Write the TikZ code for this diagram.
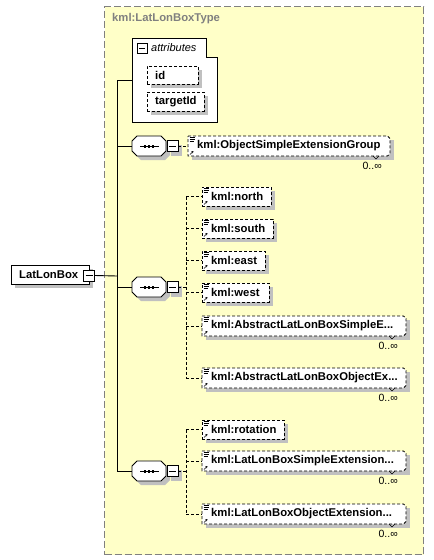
\documentclass[tikz,border=0pt]{standalone}
\usepackage{fontspec}
\setmainfont{Liberation Sans}
\usetikzlibrary{arrows.meta,calc}
\definecolor{bgyel}{RGB}{255,255,200}
\definecolor{bordgray}{RGB}{128,128,128}
\definecolor{shgray}{RGB}{192,192,192}
\pgfdeclarelayer{bg}
\pgfdeclarelayer{shadow}
\pgfsetlayers{bg,shadow,main}
\tikzset{
  dsh/.style={dash pattern=on 3pt off 2pt},
  elembox/.style={draw,fill=white,line width=0.8pt,dsh,inner sep=0pt,outer sep=0pt},
  hold/.style={inner sep=0pt,outer sep=0pt},
  etext/.style={font=\bfseries\fontsize{11.3}{13}\selectfont,inner sep=0pt},
  mult/.style={font=\fontsize{10.5}{12}\selectfont,inner sep=0pt},
  minusbox/.style={draw,fill=white,line width=0.8pt,minimum size=11pt,inner sep=0pt,outer sep=0pt},
  conn/.style={line width=0.9pt},
  dconn/.style={line width=0.8pt,dsh},
  icon/.style={line width=0.6pt},
}
\newcommand\shadowof[1]{%
  \begin{pgfonlayer}{shadow}\fill[shgray] ([shift={(4,4)}]#1.north west) rectangle ([shift={(4,4)}]#1.south east);\end{pgfonlayer}}
\newcommand\xicon[1]{%
  \draw[icon] (#1.north west) ++(1.5,1.5) -- ++(5,0) (#1.north west) ++(1.5,3.3) -- ++(5,0) (#1.north west) ++(1.5,5.1) -- ++(4,0);
  \draw[icon,-{Stealth[length=2.2pt,width=2.4pt]}] (#1.south west) ++(2,-1.5) -- ++(3.5,-3.5);}
\newcommand\xelem[6]{%
  \node[elembox,minimum width=#4pt,minimum height=#5pt,anchor=north west] (#1) at (#2,#3) {};
  \shadowof{#1}
  \node[etext,anchor=west] (#1-t) at ([xshift=9pt]#1.west) {#6};
  \xicon{#1}}
\newcommand\xelemu[6]{%
  \node[hold,minimum width=#4pt,minimum height=#5pt,anchor=north west] (#1) at (#2,#3) {};
  \shadowof{#1}
  \draw[line width=0.8pt,dsh,fill=white] (#1.north west) -- ([xshift=-2.5pt]#1.north east) -- ([yshift=-2.5pt]#1.north east) -- ([yshift=2.5pt]#1.south east) -- ([xshift=-2.5pt]#1.south east) -- (#1.south west) -- cycle;
  \node[etext,anchor=west] (#1-t) at ([xshift=9pt]#1.west) {#6};
  \xicon{#1}
  \draw[line width=0.6pt] (#1.south east) ++(-17,0) -- ++(3,3) -- ++(3,-3);
  \node[mult,anchor=north east] (#1-m) at ([xshift=-8pt,yshift=-6pt]#1.south east) {0..∞};}
\newcommand\octpath[2]{% node, shift
  ($(#1.north west)+#2+(5,0)$) -- ($(#1.north east)+#2+(-5,0)$) -- ($(#1.north east)+#2+(0,5)$) -- ($(#1.south east)+#2+(0,-5)$) -- ($(#1.south east)+#2+(-5,0)$) -- ($(#1.south west)+#2+(5,0)$) -- ($(#1.south west)+#2+(0,-5)$) -- ($(#1.north west)+#2+(0,5)$) -- cycle}
\begin{document}
\begin{tikzpicture}[x=1pt,y=-1pt]
\useasboundingbox (0,0) rectangle (434,560);
% type frame
\node[hold,minimum width=85pt,minimum height=84pt,anchor=north west] (attr) at (132,38) {};
\begin{pgfonlayer}{bg}
\node[draw=bordgray,fill=bgyel,line width=1pt,dash pattern=on 7pt off 3pt,minimum width=319pt,minimum height=548pt,anchor=north west,inner sep=0pt] (frame) at (104,6) {};
\draw[line width=0.9pt,fill=white] (attr.north west) -- ++(74,0) -- ++(0,19) -- (attr.east |- 0,57) -- (attr.south east) -- (attr.south west) -- cycle;
\end{pgfonlayer}
\node[etext,text=bordgray,anchor=west] (title) at (112,19) {kml:LatLonBoxType};
% attributes
\node[minusbox,minimum size=10pt] (amin) at (142,48) {};
\draw[line width=0.8pt] ([xshift=2pt]amin.west) -- ([xshift=-2pt]amin.east);
\node[font=\itshape\fontsize{11}{13}\selectfont,anchor=west,inner sep=0pt] (attrt) at (151,48) {attributes};
\node[elembox,minimum width=51pt,minimum height=18pt,anchor=north west] (aid) at (147,66) {};
\shadowof{aid}
\node[etext,anchor=west] (aidt) at ([xshift=8pt]aid.west) {id};
\node[elembox,minimum width=57pt,minimum height=19pt,anchor=north west] (atid) at (147,92) {};
\shadowof{atid}
\node[etext,anchor=west] (atidt) at ([xshift=8pt]atid.west) {targetId};
% root
\node[draw,fill=white,line width=0.9pt,minimum width=78pt,minimum height=19pt,anchor=north west,inner sep=0pt,outer sep=0pt] (root) at (11,265) {};
\shadowof{root}
\node[etext,anchor=west] (roott) at (19,275) {LatLonBox};
\node[minusbox] (rmin) at (89,275.5) {};
\draw[line width=0.8pt] ([xshift=2pt]rmin.west) -- ([xshift=-2pt]rmin.east);
% sequences
\foreach \n/\y in {1/146,2/287,3/471}{
  \node[hold,minimum width=34pt,minimum height=20pt] (seq\n) at (149,\y) {};
  \begin{pgfonlayer}{shadow}\fill[shgray] \octpath{seq\n}{(4,4)};\end{pgfonlayer}
  \draw[line width=0.8pt,fill=white] \octpath{seq\n}{(0,0)};
  \draw[line width=1pt] ([xshift=8pt]seq\n.west) -- ([xshift=-7pt]seq\n.east);
  \foreach \dx in {-4,0,4}{\fill ([xshift=\dx pt]seq\n.center) ++(-1.2,-1.5) rectangle ++(2.4,3);}
  \node[minusbox] (smin\n) at (172.5,\y) {};
  \shadowof{smin\n}
  \draw[line width=0.8pt] ([xshift=2pt]smin\n.west) -- ([xshift=-2pt]smin\n.east);
}
% trunk
\coordinate (tr) at (117,276);
\draw[conn] (rmin.east) -- (tr);
\draw[conn] (attr.west) -- (attr.west -| tr) -- (seq3.west -| tr) -- (seq3.west);
\draw[conn] (seq1.west -| tr) -- (seq1.west);
\draw[conn] (seq2.west -| tr) -- (seq2.west);
% group 1
\xelemu{osg}{188}{136}{202}{20}{kml:ObjectSimpleExtensionGroup}
\draw[dconn] (smin1.east) -- (osg.west);
% group 2
\xelem{north}{202}{187}{69}{19}{kml:north}
\xelem{south}{202}{219}{71}{19}{kml:south}
\xelem{east}{202}{251}{63}{19}{kml:east}
\xelem{west}{202}{283}{67}{19}{kml:west}
\xelemu{alsim}{202}{316}{204}{20}{kml:AbstractLatLonBoxSimpleE...}
\xelemu{alobj}{202}{368}{204}{20}{kml:AbstractLatLonBoxObjectEx...}
\coordinate (b2) at (186,287);
\draw[dconn] (smin2.east) -- (b2);
\draw[dconn] (north.west -| b2) -- (alobj.west -| b2);
\foreach \e in {north,south,east,west,alsim,alobj}{\draw[dconn] (\e.west -| b2) -- (\e.west);}
% group 3
\xelem{rot}{202}{420}{82}{19}{kml:rotation}
\xelemu{lsim}{202}{451}{204}{20}{kml:LatLonBoxSimpleExtension...}
\xelemu{lobj}{202}{504}{204}{20}{kml:LatLonBoxObjectExtension...}
\coordinate (b3) at (186,471);
\draw[dconn] (smin3.east) -- (b3);
\draw[dconn] (rot.west -| b3) -- (lobj.west -| b3);
\foreach \e in {rot,lsim,lobj}{\draw[dconn] (\e.west -| b3) -- (\e.west);}
\end{tikzpicture}
\end{document}
